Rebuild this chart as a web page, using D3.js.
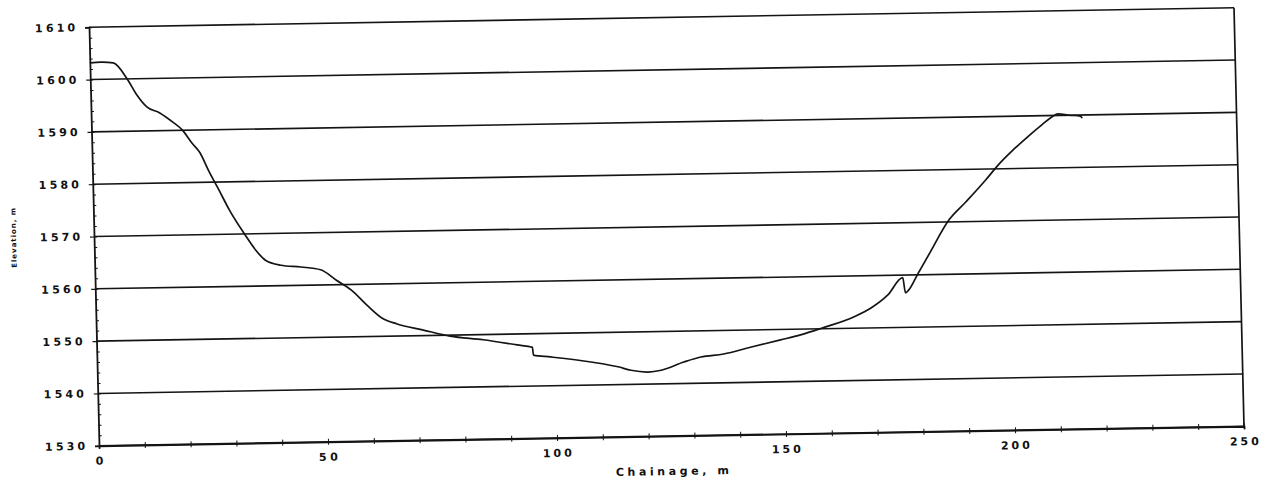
<!DOCTYPE html>
<html>
<head>
<meta charset="utf-8">
<script src="https://cdn.jsdelivr.net/npm/d3@7"></script>
<style>
  html, body { margin: 0; padding: 0; background: #fff; }
  svg { display: block; }
  text { font-family: "DejaVu Sans", "Liberation Sans", Arial, sans-serif; font-weight: bold; fill: #111; }
</style>
</head>
<body>
<svg id="chart" width="1274" height="481"></svg>
<script>
// ---- data ----
const chainage = [0, 2.5, 5.1, 8.2, 10.1, 12.2, 15.0, 17.8, 19.8, 21.9, 23.6, 25.3, 27.5, 29.7, 33.0, 35.2, 37.3, 40.6, 45.0, 49.3, 52.6, 55.9, 59.2, 62.4, 65.7, 71.2, 77.2, 84.4, 91.8, 95.1, 95.3, 99.0, 107.8, 113.7, 116.5, 120.2, 123.1, 128.1, 131.8, 136.8, 142.7, 149.3, 153.7, 158.3, 165.5, 169.2, 172.9, 176.3, 176.8, 177.6, 179.5, 182.3, 186.7, 190.5, 194.9, 197.7, 201.0, 204.3, 207.5, 210.4, 211.0, 213.5, 215.9, 216.3];
const elevation = [1603.2, 1603.3, 1603.1, 1599.8, 1596.9, 1594.6, 1593.4, 1591.6, 1590.1, 1587.5, 1585.6, 1582.3, 1578.5, 1574.6, 1569.8, 1566.9, 1564.9, 1563.9, 1563.5, 1562.9, 1560.9, 1558.9, 1556.0, 1553.5, 1552.3, 1551.1, 1549.8, 1549.0, 1547.9, 1547.4, 1545.9, 1545.5, 1544.4, 1543.4, 1542.7, 1542.3, 1542.6, 1544.1, 1545.0, 1545.5, 1546.7, 1548.0, 1548.9, 1550.1, 1552.2, 1553.8, 1556.2, 1559.5, 1556.6, 1557.2, 1560.0, 1564.1, 1570.4, 1573.8, 1577.9, 1580.7, 1583.5, 1586.0, 1588.3, 1590.1, 1590.3, 1590.0, 1589.8, 1589.4];
const xTicks = [0, 50, 100, 150, 200, 250];
const yTicks = [1530, 1540, 1550, 1560, 1570, 1580, 1590, 1600, 1610];
const xTitle = "Chainage, m";
const yTitle = "Elevation, m";

// ---- layout (plot drawn in local frame, then skewed like the scan) ----
const W = 1145, H = 418.5;
const svg = d3.select("#chart");
svg.append("rect").attr("width", 1274).attr("height", 481).attr("fill", "#fff");
const g = svg.append("g").attr("transform", "matrix(1,-0.01703,0.0239,1,89,27.25)");

const x = d3.scaleLinear().domain([0, 250]).range([0, W]);
const y = d3.scaleLinear().domain([1530, 1610]).range([H, 0]);
const ink = "#141414";

// gridlines
g.append("g").selectAll("line").data(yTicks).join("line")
  .attr("x1", 0).attr("x2", W)
  .attr("y1", d => y(d)).attr("y2", d => y(d))
  .attr("stroke", ink).attr("stroke-width", 1.6);

// right border
g.append("line").attr("x1", W).attr("x2", W).attr("y1", 0).attr("y2", H)
  .attr("stroke", ink).attr("stroke-width", 1.7);

// left axis with minor ticks inside
const yAxis = g.append("g").call(d3.axisLeft(y).tickValues(yTicks).tickSize(4).tickFormat(""));
yAxis.select(".domain").attr("stroke", ink).attr("stroke-width", 1.8);
yAxis.selectAll("line").attr("stroke", ink).attr("stroke-width", 1.2);
g.append("g").call(d3.axisRight(y).tickValues(d3.range(1530, 1611, 2)).tickSize(3).tickFormat(""))
  .call(s => s.select(".domain").remove())
  .selectAll("line").attr("stroke", ink).attr("stroke-width", 1);

// y tick labels
g.append("g").selectAll("text").data(yTicks).join("text")
  .attr("x", -14).attr("y", d => y(d)).attr("dy", "0.36em")
  .attr("text-anchor", "end").attr("font-size", 11)
  .attr("textLength", d => String(d).length * 10).attr("lengthAdjust", "spacing")
  .text(d => d);

// bottom axis with ticks crossing
const xAxis = g.append("g").attr("transform", `translate(0,${H})`)
  .call(d3.axisBottom(x).tickValues(d3.range(0, 251, 10)).tickSize(3).tickFormat(""));
xAxis.select(".domain").attr("stroke", ink).attr("stroke-width", 1.8);
xAxis.selectAll(".tick line").attr("y1", -3).attr("stroke", ink).attr("stroke-width", 1);

// x tick labels
g.append("g").selectAll("text").data(xTicks).join("text")
  .attr("x", d => x(d)).attr("y", H + 19)
  .attr("text-anchor", "middle").attr("font-size", 11)
  .attr("textLength", d => d === 0 ? 8 : String(d).length * 10 - 1).attr("lengthAdjust", "spacing")
  .text(d => d);

// axis titles
g.append("text").attr("x", W / 2).attr("y", H + 39)
  .attr("text-anchor", "middle").attr("font-size", 11)
  .attr("textLength", 113).attr("lengthAdjust", "spacing")
  .text(xTitle);
g.append("text").attr("transform", `translate(-78,${H / 2}) rotate(-90)`)
  .attr("text-anchor", "middle").attr("font-size", 7)
  .attr("textLength", 60).attr("lengthAdjust", "spacing")
  .text(yTitle);

// profile line
const pts = chainage.map((c, i) => [c, elevation[i]]);
g.append("path").datum(pts)
  .attr("fill", "none").attr("stroke", ink).attr("stroke-width", 1.7)
  .attr("stroke-linejoin", "round")
  .attr("d", d3.line().x(d => x(d[0])).y(d => y(d[1])).curve(d3.curveMonotoneX));
</script>
</body>
</html>
